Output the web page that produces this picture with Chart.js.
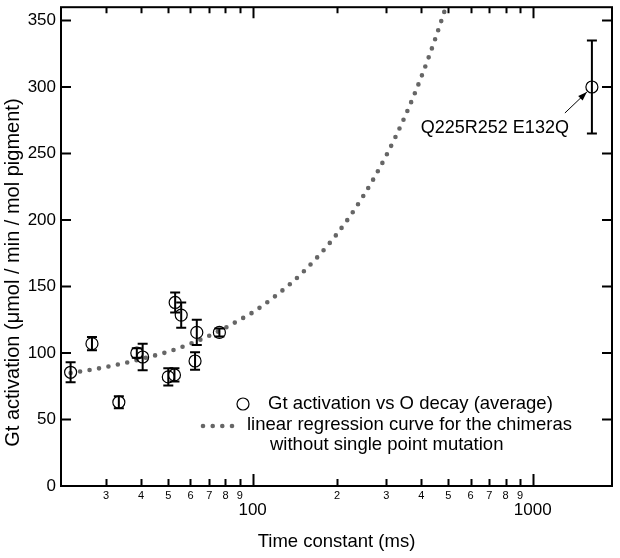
<!DOCTYPE html>
<html><head><meta charset="utf-8">
<script src="https://cdn.jsdelivr.net/npm/chart.js@4.4.1/dist/chart.umd.min.js"></script>
<style>html,body{margin:0;padding:0;background:#fff}#wrap{width:620px;height:558px}</style>
</head><body><div id="wrap"><canvas id="c" width="620" height="558"></canvas></div>
<script>
// ---- data ----
const timeConstants = [22.4, 26.7, 33.3, 38.6, 40.5, 50.0, 52.6, 52.9, 55.6, 62.3, 63.2, 76.1, 1626];
const gtActivation  = [85.5, 107, 63, 100, 97, 82, 83.5, 138, 128.5, 94, 115.5, 115.5, 300];
const gtError       = [7.5, 5, 4.5, 3.6, 10, 6.5, 5, 7.5, 9.5, 6.5, 9.5, 3, 35];
const curveX = [22.4, 25, 30, 35, 40, 50, 60, 70, 80, 90, 100, 120, 150, 200, 250, 300, 350, 400, 450, 500];
const curveY = [85, 86.5, 89.5, 92.5, 95.5, 101, 107, 113, 119, 125, 130.5, 142.5, 160, 189.5, 219, 248.5, 278, 307.5, 337, 366];
const xTickValues = [30, 40, 50, 60, 70, 80, 90, 100, 200, 300, 400, 500, 600, 700, 800, 900, 1000];
const xMajorTicks = [100, 1000];
const yTickValues = [0, 50, 100, 150, 200, 250, 300, 350];
const pointLabel = 'Gt activation vs O decay (average)';
const curveLabel = ['linear regression curve for the chimeras', 'without single point mutation'];
const xTitle = 'Time constant (ms)';
const yTitle = 'Gt activation (μmol / min / mol pigment)';
const annotationText = 'Q225R252 E132Q';
const annotatedIndex = 12;

const FONT = 'Arial, "Liberation Sans", sans-serif';

const decor = {
  id: 'decor',
  afterDatasetsDraw(chart) {
    const {ctx, chartArea: a, scales: {x, y}} = chart;
    ctx.save();
    // error bars
    ctx.strokeStyle = '#000'; ctx.lineWidth = 2;
    timeConstants.forEach((t, i) => {
      const px = x.getPixelForValue(t);
      const top = y.getPixelForValue(gtActivation[i] + gtError[i]);
      const bot = y.getPixelForValue(gtActivation[i] - gtError[i]);
      ctx.beginPath();
      ctx.moveTo(px, top); ctx.lineTo(px, bot);
      ctx.moveTo(px - 5, top); ctx.lineTo(px + 5, top);
      ctx.moveTo(px - 5, bot); ctx.lineTo(px + 5, bot);
      ctx.stroke();
    });
    // annotation with arrow
    const cx = x.getPixelForValue(timeConstants[annotatedIndex]);
    const cy = y.getPixelForValue(gtActivation[annotatedIndex]);
    const tip = {x: cx - 5, y: cy + 5};
    const tail = {x: cx - 27, y: cy + 26};
    ctx.lineWidth = 1; ctx.strokeStyle = '#000'; ctx.fillStyle = '#000';
    ctx.beginPath(); ctx.moveTo(tail.x, tail.y); ctx.lineTo(tip.x, tip.y); ctx.stroke();
    const ang = Math.atan2(tip.y - tail.y, tip.x - tail.x);
    const L = 9, W = 3.2;
    ctx.beginPath();
    ctx.moveTo(tip.x, tip.y);
    ctx.lineTo(tip.x - L * Math.cos(ang) + W * Math.sin(ang), tip.y - L * Math.sin(ang) - W * Math.cos(ang));
    ctx.lineTo(tip.x - L * Math.cos(ang) - W * Math.sin(ang), tip.y - L * Math.sin(ang) + W * Math.cos(ang));
    ctx.closePath(); ctx.fill();
    ctx.font = '18px ' + FONT; ctx.textAlign = 'right'; ctx.textBaseline = 'middle';
    ctx.fillText(annotationText, cx - 23, cy + 41);

    // legend
    ctx.textAlign = 'left';
    ctx.font = '18.5px ' + FONT;
    ctx.lineWidth = 1.2;
    ctx.beginPath(); ctx.arc(243, 404, 6, 0, Math.PI * 2); ctx.stroke();
    ctx.fillText(pointLabel, 268, 404);
    ctx.fillStyle = '#666';
    [203, 212.7, 222.3, 232].forEach(dx => { ctx.beginPath(); ctx.arc(dx, 426, 2.3, 0, Math.PI * 2); ctx.fill(); });
    ctx.fillStyle = '#000';
    ctx.fillText(curveLabel[0], 247, 425);
    ctx.fillText(curveLabel[1], 270, 445);

    // y axis title
    ctx.save();
    ctx.translate(13, (a.top + a.bottom) / 2 + 26);
    ctx.rotate(-Math.PI / 2);
    ctx.font = '20px ' + FONT; ctx.textAlign = 'center'; ctx.textBaseline = 'middle';
    ctx.fillText(yTitle, 0, 0);
    ctx.restore();
    ctx.restore();
  },
  afterDraw(chart) {
    const {ctx, chartArea: a, scales: {x, y}} = chart;
    ctx.save();
    ctx.strokeStyle = '#000'; ctx.lineWidth = 2;
    ctx.strokeRect(a.left, a.top, a.right - a.left, a.bottom - a.top);
    ctx.beginPath();
    x.ticks.forEach(t => {
      const px = Math.round(x.getPixelForValue(t.value)) + 0.5;
      const len = t.major ? 12 : 7;
      ctx.moveTo(px, a.bottom); ctx.lineTo(px, a.bottom - len);
      ctx.moveTo(px, a.top); ctx.lineTo(px, a.top + (t.major ? 11 : 6));
    });
    y.ticks.forEach(t => {
      const py = y.getPixelForValue(t.value);
      ctx.moveTo(a.left, py); ctx.lineTo(a.left + 10, py);
      ctx.moveTo(a.right, py); ctx.lineTo(a.right - 10, py);
    });
    ctx.stroke();
    ctx.restore();
  }
};

new Chart(document.getElementById('c'), {
  data: {
    datasets: [
      {
        type: 'scatter', label: pointLabel,
        data: timeConstants.map((t, i) => ({x: t, y: gtActivation[i]})),
        pointRadius: 6, pointHoverRadius: 6, pointBorderColor: '#000',
        pointBackgroundColor: 'rgba(0,0,0,0)', pointBorderWidth: 1.2, order: 1
      },
      {
        type: 'line', label: curveLabel.join(' '),
        data: curveX.map((t, i) => ({x: t, y: curveY[i]})),
        borderColor: '#666', borderWidth: 4.6, borderDash: [0, 9.6], borderCapStyle: 'round',
        pointRadius: 0, cubicInterpolationMode: 'monotone', fill: false, clip: 0, order: 2
      }
    ]
  },
  options: {
    responsive: false, animation: false, devicePixelRatio: 1,
    layout: {padding: {top: 6, right: 8, left: 0, bottom: 0}},
    plugins: {legend: {display: false}, tooltip: {enabled: false}},
    scales: {
      x: {
        type: 'logarithmic', position: 'bottom', min: 20.7, max: 1918,
        afterBuildTicks: s => { s.ticks = xTickValues.map(v => ({value: v, major: xMajorTicks.includes(v)})); },
        afterFit: s => { s.height = 72; s.paddingLeft = 0; s.paddingRight = 0; },
        grid: {display: false, drawTicks: false}, border: {display: false},
        ticks: {
          autoSkip: false, maxRotation: 0, minRotation: 0, padding: 3, color: '#000',
          callback: v => xMajorTicks.includes(v) ? ['', String(v)] : String(Math.round(v / Math.pow(10, Math.floor(Math.log10(v) + 1e-9)))),
          font: c => (c.tick && c.tick.major) ? {family: FONT, size: 17, lineHeight: 0.85} : {family: FONT, size: 11, lineHeight: 1.2}
        },
        title: {display: true, text: xTitle, color: '#000', font: {family: FONT, size: 18.5}, padding: {top: 0, bottom: 5}}
      },
      y: {
        min: 0, max: 360,
        afterBuildTicks: s => { s.ticks = yTickValues.map(v => ({value: v})); },
        afterFit: s => { s.width = 61; s.paddingTop = 0; s.paddingBottom = 0; },
        grid: {display: false, drawTicks: false}, border: {display: false},
        ticks: {padding: 5, color: '#000', font: {family: FONT, size: 17}},
        title: {display: false, text: yTitle}
      }
    }
  },
  plugins: [decor]
});
</script></body></html>
